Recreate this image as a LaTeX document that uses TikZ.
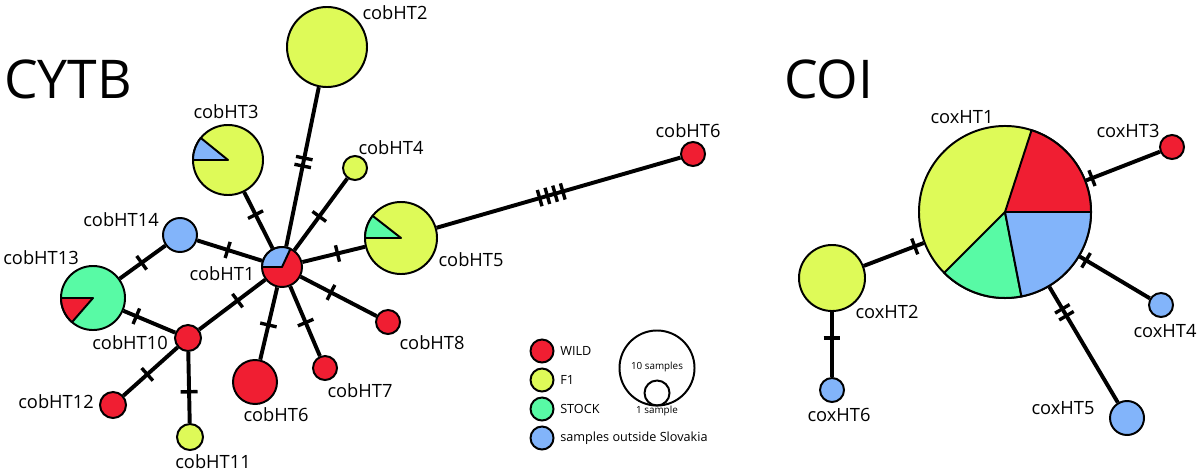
\documentclass[tikz,border=0pt]{standalone}
\usepackage{fontspec}
\setmainfont{Open Sans}
\usetikzlibrary{decorations.markings}
\definecolor{cwild}{RGB}{240,30,50}
\definecolor{cfone}{RGB}{222,250,88}
\definecolor{cstock}{RGB}{88,250,165}
\definecolor{cout}{RGB}{130,180,250}
\begin{document}
\begin{tikzpicture}[x=0.025cm,y=0.025cm,
  hap/.style={circle,draw=black,line width=1.4pt,inner sep=0pt,minimum size={#1*0.05cm}},
  wedge/.style={draw=black,line width=1.4pt,line join=round},
  conn/.style={line width=2.8pt},
  tickline/.style={line width=2.4pt},
  mkone/.style={postaction={decorate,decoration={markings,mark=at position #1 with {\draw[tickline] (0,-6pt)--(0,6pt);}}}},
  mktwo/.style={postaction={decorate,decoration={markings,mark=at position #1 with {\draw[tickline] (-2.85pt,-6pt)--(-2.85pt,6pt) (2.85pt,-6pt)--(2.85pt,6pt);}}}},
  mkfour/.style={postaction={decorate,decoration={markings,mark=at position #1 with {\draw[tickline] (-8.55pt,-6pt)--(-8.55pt,6pt) (-2.85pt,-6pt)--(-2.85pt,6pt) (2.85pt,-6pt)--(2.85pt,6pt) (8.55pt,-6pt)--(8.55pt,6pt);}}}},
  lab/.style={font=\fontsize{13}{15}\selectfont,inner sep=0pt},
  title/.style={font=\fontsize{38}{40}\selectfont,inner sep=0pt,anchor=base west},
  leg/.style={font=\fontsize{9}{11}\selectfont,inner sep=0pt,anchor=west},
  legs/.style={font=\fontsize{7}{8}\selectfont,inner sep=0pt},
  legc/.style={circle,draw=black,line width=1.4pt,inner sep=0pt,minimum size=0.575cm}
]
\useasboundingbox (0,0) rectangle (1200,-473);

% titles
\node[title] (tcytb) at (4,-98) {CYTB};
\node[title] (tcoi) at (784,-98) {COI};

% CYTB haplotypes
\node[hap=20,fill=cwild] (b1) at (282,-267) {};
\node[hap=40,fill=cfone] (b2) at (327,-47) {};
\node[hap=35,fill=cfone] (b3) at (228,-160) {};
\node[hap=12,fill=cfone] (b4) at (355,-168) {};
\node[hap=36,fill=cfone] (b5) at (401,-238) {};
\node[hap=12,fill=cwild] (b6r) at (693,-154) {};
\node[hap=22,fill=cwild] (b6) at (255,-382) {};
\node[hap=12,fill=cwild] (b7) at (325,-368) {};
\node[hap=12,fill=cwild] (b8) at (388,-322) {};
\node[hap=13,fill=cwild] (b10) at (188,-338) {};
\node[hap=13,fill=cfone] (b11) at (190,-437) {};
\node[hap=13,fill=cwild] (b12) at (113,-405) {};
\node[hap=32,fill=cstock] (b13) at (93,-298) {};
\node[hap=17,fill=cout] (b14) at (180,-235) {};

% pie wedges
\filldraw[wedge,fill=cout] (b1.center) -- ++(65:20) arc[start angle=65,end angle=180,radius=20] -- cycle;
\filldraw[wedge,fill=cout] (b3.center) -- ++(141:35) arc[start angle=141,end angle=180,radius=35] -- cycle;
\filldraw[wedge,fill=cstock] (b5.center) -- ++(142:36) arc[start angle=142,end angle=180,radius=36] -- cycle;
\filldraw[wedge,fill=cwild] (b13.center) -- ++(180:32) arc[start angle=180,end angle=229,radius=32] -- cycle;

% CYTB connectors
\draw[conn,mktwo=0.53] (b1) -- (b2);
\draw[conn,mkone=0.6] (b1) -- (b3);
\draw[conn,mkone=0.47] (b1) -- (b4);
\draw[conn,mkone=0.56] (b1) -- (b5);
\draw[conn,mkone=0.53] (b1) -- (b14);
\draw[conn,mkone=0.42] (b1) -- (b10);
\draw[conn,mkone=0.52] (b1) -- (b6);
\draw[conn,mkone=0.52] (b1) -- (b7);
\draw[conn,mkone=0.4] (b1) -- (b8);
\draw[conn,mkone=0.48] (b13) -- (b14);
\draw[conn,mkone=0.25] (b13) -- (b10);
\draw[conn,mkone=0.56] (b10) -- (b12);
\draw[conn,mkone=0.56] (b10) -- (b11);
\draw[conn,mkfour=0.47] (b5) -- (b6r);

% CYTB labels
\node[lab] (lb1) at (222,-274) {cobHT1};
\node[lab] (lb2) at (395,-13) {cobHT2};
\node[lab] (lb3) at (226,-112) {cobHT3};
\node[lab] (lb4) at (391,-148) {cobHT4};
\node[lab] (lb5) at (471,-260) {cobHT5};
\node[lab] (lb6r) at (688,-131) {cobHT6};
\node[lab] (lb6) at (276,-415) {cobHT6};
\node[lab] (lb7) at (360,-391) {cobHT7};
\node[lab] (lb8) at (432,-343) {cobHT8};
\node[lab] (lb10) at (130,-343) {cobHT10};
\node[lab] (lb11) at (213,-462) {cobHT11};
\node[lab] (lb12) at (56,-402) {cobHT12};
\node[lab] (lb13) at (41,-258) {cobHT13};
\node[lab] (lb14) at (121,-220) {cobHT14};

% COI haplotypes
\node[hap=86,fill=cfone] (x1) at (1005,-212) {};
\node[hap=33,fill=cfone] (x2) at (832,-278) {};
\node[hap=12,fill=cwild] (x3) at (1172,-147) {};
\node[hap=12,fill=cout] (x4) at (1161,-305) {};
\node[hap=17,fill=cout] (x5) at (1127,-418) {};
\node[hap=12,fill=cout] (x6) at (832,-390) {};
\filldraw[wedge,fill=cwild] (x1.center) -- ++(0:86) arc[start angle=0,end angle=72,radius=86] -- cycle;
\filldraw[wedge,fill=cstock] (x1.center) -- ++(225:86) arc[start angle=225,end angle=281,radius=86] -- cycle;
\filldraw[wedge,fill=cout] (x1.center) -- ++(281:86) arc[start angle=281,end angle=360,radius=86] -- cycle;

% COI connectors
\draw[conn,mkone=0.08] (x1) -- (x3);
\draw[conn,mkone=0.15] (x1) -- (x2);
\draw[conn,mkone=0.4] (x2) -- (x6);
\draw[conn,mkone=0.09] (x1) -- (x4);
\draw[conn,mktwo=0.22] (x1) -- (x5);

% COI labels
\node[lab] (lx1) at (962,-117) {coxHT1};
\node[lab] (lx2) at (887,-312) {coxHT2};
\node[lab] (lx3) at (1128,-131) {coxHT3};
\node[lab] (lx4) at (1165,-331) {coxHT4};
\node[lab] (lx5) at (1063,-408) {coxHT5};
\node[lab] (lx6) at (839,-415) {coxHT6};

% legend
\node[legc,fill=cwild] (g1) at (542,-351) {};
\node[legc,fill=cfone] (g2) at (542,-380) {};
\node[legc,fill=cstock] (g3) at (542,-409) {};
\node[legc,fill=cout] (g4) at (542,-438) {};
\node[leg] (gl1) at (560,-351) {WILD};
\node[leg] (gl2) at (560,-380) {F1};
\node[leg] (gl3) at (560,-409) {STOCK};
\node[leg] (gl4) at (560,-438) {samples outside Slovakia};
\node[circle,draw=black,line width=1.4pt,inner sep=0pt,minimum size=1.875cm] (gbig) at (657,-368) {};
\node[circle,draw=black,line width=1.4pt,inner sep=0pt,minimum size=0.625cm] (gsmall) at (657,-393) {};
\node[legs] (gt1) at (657,-367) {10 samples};
\node[legs] (gt2) at (657,-411) {1 sample};
\end{tikzpicture}
\end{document}
